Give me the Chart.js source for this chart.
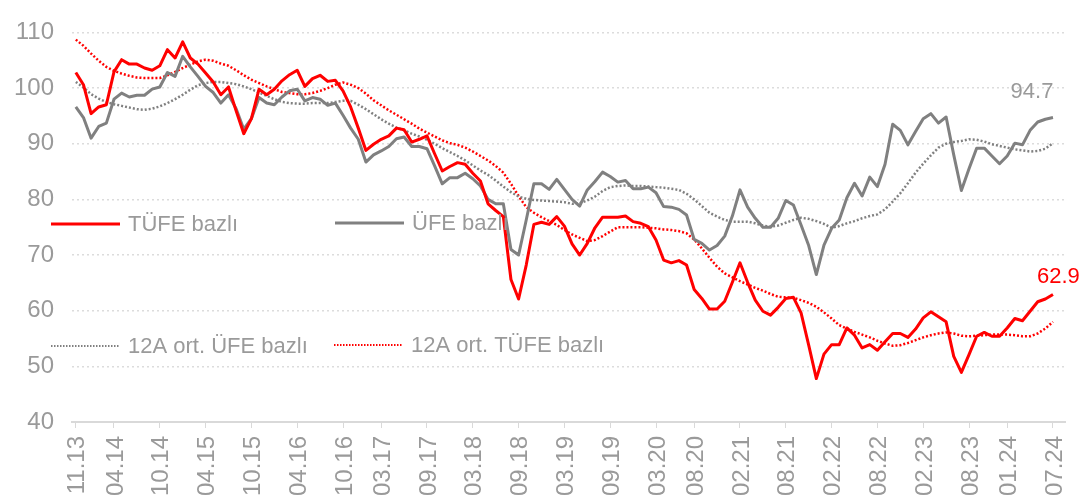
<!DOCTYPE html>
<html>
<head>
<meta charset="utf-8">
<script src="https://cdn.jsdelivr.net/npm/chart.js@4"></script>
<style>
  body { margin: 0; background: #fff; }
  #box { width: 1090px; height: 503px; }
</style>
</head>
<body>
<div id="box"><canvas id="chart"></canvas></div>
<script>
// Seriler: 11.13 - 07.24 arası aylık (129 ay)
const seriesNames = ['TÜFE bazlı', 'ÜFE bazlı', '12A ort. ÜFE bazlı', '12A ort. TÜFE bazlı'];

const tufe = [
  102.8, 100.6, 95.4, 96.6, 97.0, 102.9, 105.1, 104.3, 104.3, 103.6, 103.2, 104.0,
  106.9, 105.4, 108.3, 105.4, 104.3, 102.7, 101.1, 98.8, 100.2, 95.9, 91.8, 94.5,
  99.8, 98.8, 99.8, 101.3, 102.4, 103.2, 100.3, 101.7, 102.3, 101.2, 101.4, 99.5,
  96.6, 92.8, 88.8, 89.9, 90.8, 91.4, 92.8, 92.5, 90.3, 90.8, 91.4, 88.2,
  85.1, 85.9, 86.6, 86.3, 84.7, 83.3, 79.2, 78.0, 76.9, 65.6, 62.1, 68.2,
  75.5, 75.9, 75.5, 76.9, 75.2, 72.0, 70.0, 72.1, 74.9, 76.8, 76.8, 76.8,
  77.0, 76.0, 75.7, 75.1, 72.7, 69.1, 68.6, 69.0, 68.2, 63.8, 62.2, 60.3,
  60.3, 61.7, 65.1, 68.6, 65.1, 61.9, 59.9, 59.2, 60.6, 62.2, 62.4, 59.6,
  53.8, 47.8, 52.2, 53.9, 53.9, 56.9, 55.6, 53.3, 53.9, 52.9, 54.4, 55.9,
  55.9, 55.2, 56.7, 58.7, 59.8, 58.9, 58.0, 51.8, 48.9, 52.1, 55.4, 56.1,
  55.4, 55.4, 56.9, 58.6, 58.2, 59.9, 61.6, 62.1, 62.9
];

const ufe = [
  96.6, 94.7, 91.0, 93.1, 93.7, 98.0, 99.1, 98.4, 98.7, 98.7, 99.8, 100.2,
  102.8, 102.1, 105.7, 103.8, 102.1, 100.3, 99.2, 97.3, 98.8, 96.3, 92.6, 94.5,
  98.3, 97.3, 97.0, 98.4, 99.5, 99.8, 97.7, 98.3, 98.0, 96.9, 97.3, 95.1,
  92.8, 90.8, 86.7, 88.0, 88.7, 89.5, 90.9, 91.2, 89.5, 89.5, 89.1, 86.0,
  82.8, 83.9, 83.9, 84.7, 83.7, 82.4, 80.0, 79.2, 79.2, 71.0, 70.0, 76.3,
  82.8, 82.8, 81.8, 83.6, 81.8, 80.0, 78.8, 81.7, 83.2, 84.9, 84.1, 83.1,
  83.4, 81.9, 81.9, 82.2, 81.2, 78.7, 78.6, 78.2, 77.2, 72.8, 72.1, 70.9,
  71.7, 73.4, 77.0, 81.7, 78.6, 76.6, 75.0, 75.0, 76.6, 79.8, 79.0, 75.4,
  71.7, 66.5, 71.8, 74.8, 76.3, 80.3, 82.9, 80.6, 84.0, 82.3, 86.3, 93.5,
  92.4, 89.8, 92.2, 94.5, 95.4, 93.7, 94.8, 88.0, 81.6, 85.5, 89.2, 89.2,
  87.8, 86.4, 87.8, 90.1, 89.8, 92.4, 93.9, 94.4, 94.7
];

const ufeOrt = [
  101.1, 100.1, 98.9, 98.1, 97.5, 97.1, 96.8, 96.5, 96.2, 96.1, 96.3, 96.7,
  97.3, 98.0, 98.8, 99.7, 100.5, 100.9, 101.1, 101.1, 100.9, 100.7, 100.3, 99.8,
  99.2, 98.6, 98.0, 97.5, 97.3, 97.2, 97.2, 97.3, 97.3, 97.3, 97.5, 97.7,
  97.7, 97.0, 96.2, 95.3, 94.4, 93.6, 92.9, 92.4, 91.8, 91.3, 90.7, 90.0,
  89.2, 88.5, 87.8, 87.0, 86.1, 85.2, 84.4, 83.4, 82.3, 81.3, 80.5, 80.1,
  79.9, 79.8, 79.7, 79.6, 79.5, 79.2, 79.3, 79.8, 80.5, 81.5, 82.2, 82.4,
  82.5, 82.4, 82.4, 82.3, 82.2, 82.1, 81.9, 81.7, 81.0, 80.0, 78.8, 77.6,
  76.9, 76.3, 76.0, 76.0, 76.0, 75.7, 75.3, 75.1, 75.3, 75.8, 76.3, 76.7,
  76.5, 76.1, 75.6, 74.9, 75.2, 75.7, 76.1, 76.6, 77.0, 77.3, 78.2, 79.6,
  81.1, 82.9, 84.8, 86.4, 87.9, 89.3, 90.0, 90.3, 90.5, 90.8, 90.7, 90.4,
  89.9, 89.6, 89.3, 89.0, 88.8, 88.6, 88.7, 89.1, 90.1
];

const tufeOrt = [
  108.7, 107.6, 106.2, 104.9, 103.8, 103.1, 102.6, 102.2, 101.9, 101.8, 101.8, 101.8,
  102.3, 102.9, 103.6, 104.2, 104.8, 105.1, 104.9, 104.4, 104.0, 103.2, 102.3, 101.5,
  100.9, 100.3, 99.8, 99.3, 99.1, 98.9, 98.9, 99.1, 99.5, 100.0, 100.6, 101.0,
  100.6, 100.0, 99.0, 97.8, 96.9, 96.0, 95.2, 94.4, 93.6, 92.7, 92.0, 91.3,
  90.6, 90.1, 89.8, 89.3, 88.6, 87.8, 87.0, 86.0, 84.8, 82.8, 80.6, 78.6,
  77.6, 76.8, 76.1, 75.4, 74.5, 73.7, 73.1, 72.5, 72.7, 73.4, 74.2, 75.0,
  75.0, 75.0, 75.0, 74.9, 74.8, 74.6, 74.5, 74.3, 73.9, 72.8, 71.2, 69.5,
  67.9, 66.7, 66.0, 65.3, 64.7, 64.1, 63.6, 63.0, 62.5, 62.4, 62.3, 61.9,
  61.4, 60.7, 59.7, 58.6, 57.4, 56.8, 56.2, 55.7, 55.2, 54.6, 54.1, 53.7,
  53.8, 54.2, 54.7, 55.2, 55.6, 55.9, 56.1, 55.9, 55.5, 55.4, 55.5, 55.6,
  55.7, 55.7, 55.7, 55.6, 55.4, 55.4, 55.9, 56.8, 58.0
];

// x ekseninde yazılan aylar
const tickLabels = ['11.13', '04.14', '10.14', '04.15', '10.15', '04.16', '10.16', '03.17',
  '09.17', '03.18', '09.18', '03.19', '09.19', '03.20', '08.20', '02.21', '08.21', '02.22',
  '08.22', '02.23', '08.23', '01.24', '07.24'];
const yTicks = [40, 50, 60, 70, 80, 90, 100, 110];

// "mm.yy" -> 11.13'ten itibaren ay sırası
function monthIndex(lbl) {
    const mm = parseInt(lbl.slice(0, 2));
    const yy = parseInt(lbl.slice(3));
    return (yy - 13) * 12 + (mm - 11);
}
const tickPos = tickLabels.map(monthIndex);

const toXY = arr => arr.map((v, i) => ({x: i, y: v}));

const FONT = "'Liberation Sans', Arial, sans-serif";
const TEXT_GRAY = '#9a9a9a';

// Lejant ve son değer etiketleri
const legendPlugin = {
    id: 'legendPlugin',
    afterDraw(chart) {
        const ctx = chart.ctx;
        const items = [
            {ds: 0, x: 51, y: 224},
            {ds: 1, x: 335, y: 223},
            {ds: 2, x: 51, y: 346},
            {ds: 3, x: 334, y: 345}
        ];
        ctx.save();
        ctx.font = '22px ' + FONT;
        ctx.textBaseline = 'middle';
        items.forEach(it => {
            const d = chart.data.datasets[it.ds];
            ctx.beginPath();
            ctx.strokeStyle = d.borderColor;
            ctx.lineWidth = d.borderDash ? 2 : d.borderWidth;
            ctx.setLineDash(d.borderDash ? [1.5, 1.5] : []);
            ctx.moveTo(it.x, it.y);
            ctx.lineTo(it.x + 69, it.y);
            ctx.stroke();
            ctx.setLineDash([]);
            ctx.fillStyle = TEXT_GRAY;
            ctx.textAlign = 'left';
            ctx.fillText(d.label, it.x + 77, it.y + 1);
        });

        // son değerler
        const xs = chart.scales.x, ys = chart.scales.y;
        const last = tufe.length - 1;
        ctx.textBaseline = 'alphabetic';
        ctx.textAlign = 'center';
        ctx.fillStyle = TEXT_GRAY;
        ctx.fillText(ufe[last].toFixed(1), xs.getPixelForValue(last) - 21, ys.getPixelForValue(ufe[last]) - 20);
        ctx.textAlign = 'left';
        ctx.fillStyle = '#ff0000';
        ctx.fillText(tufe[last].toFixed(1), xs.getPixelForValue(last) - 16, ys.getPixelForValue(tufe[last]) - 12);
        ctx.restore();
    }
};

const ctx = document.querySelector('#chart').getContext('2d');
const chart = new Chart(ctx, {
    type: 'line',
    data: {
        datasets: [
            {label: seriesNames[0], data: toXY(tufe), borderColor: '#ff0000', borderWidth: 3, order: 0},
            {label: seriesNames[1], data: toXY(ufe), borderColor: '#808080', borderWidth: 3, order: 1},
            {label: seriesNames[2], data: toXY(ufeOrt), borderColor: '#808080', borderWidth: 2.5, borderDash: [2, 2], order: 2},
            {label: seriesNames[3], data: toXY(tufeOrt), borderColor: '#ff0000', borderWidth: 2.5, borderDash: [2, 2], order: 3}
        ]
    },
    options: {
        responsive: true,
        maintainAspectRatio: false,
        animation: false,
        layout: {padding: {top: 16, right: 17, left: 0, bottom: 0}},
        elements: {
            point: {radius: 0},
            line: {tension: 0, borderCapStyle: 'butt', borderJoinStyle: 'round'}
        },
        scales: {
            x: {
                type: 'linear',
                min: -0.5,
                max: 129.6,
                afterBuildTicks: axis => { axis.ticks = tickPos.map(v => ({value: v})); },
                afterFit: axis => { axis.height = 81; },
                ticks: {
                    autoSkip: false,
                    minRotation: 90,
                    maxRotation: 90,
                    padding: 8,
                    labelOffset: 2,
                    color: TEXT_GRAY,
                    font: {family: FONT, size: 24},
                    callback: (value, index) => tickLabels[index]
                },
                grid: {drawOnChartArea: false, drawTicks: true, tickLength: 6, color: '#d9d9d9'},
                border: {display: true, color: '#d9d9d9', width: 2}
            },
            y: {
                min: 40,
                max: 110,
                afterBuildTicks: axis => { axis.ticks = yTicks.map(v => ({value: v})); },
                afterFit: axis => { axis.width = 72; },
                ticks: {
                    padding: 18,
                    color: TEXT_GRAY,
                    font: {family: FONT, size: 24}
                },
                grid: {drawTicks: false, color: '#dcdcdc', lineWidth: 1.5},
                border: {display: false, dash: [2, 3]}
            }
        },
        plugins: {
            legend: {display: false},
            tooltip: {enabled: false}
        }
    },
    plugins: [legendPlugin]
});
</script>
</body>
</html>
